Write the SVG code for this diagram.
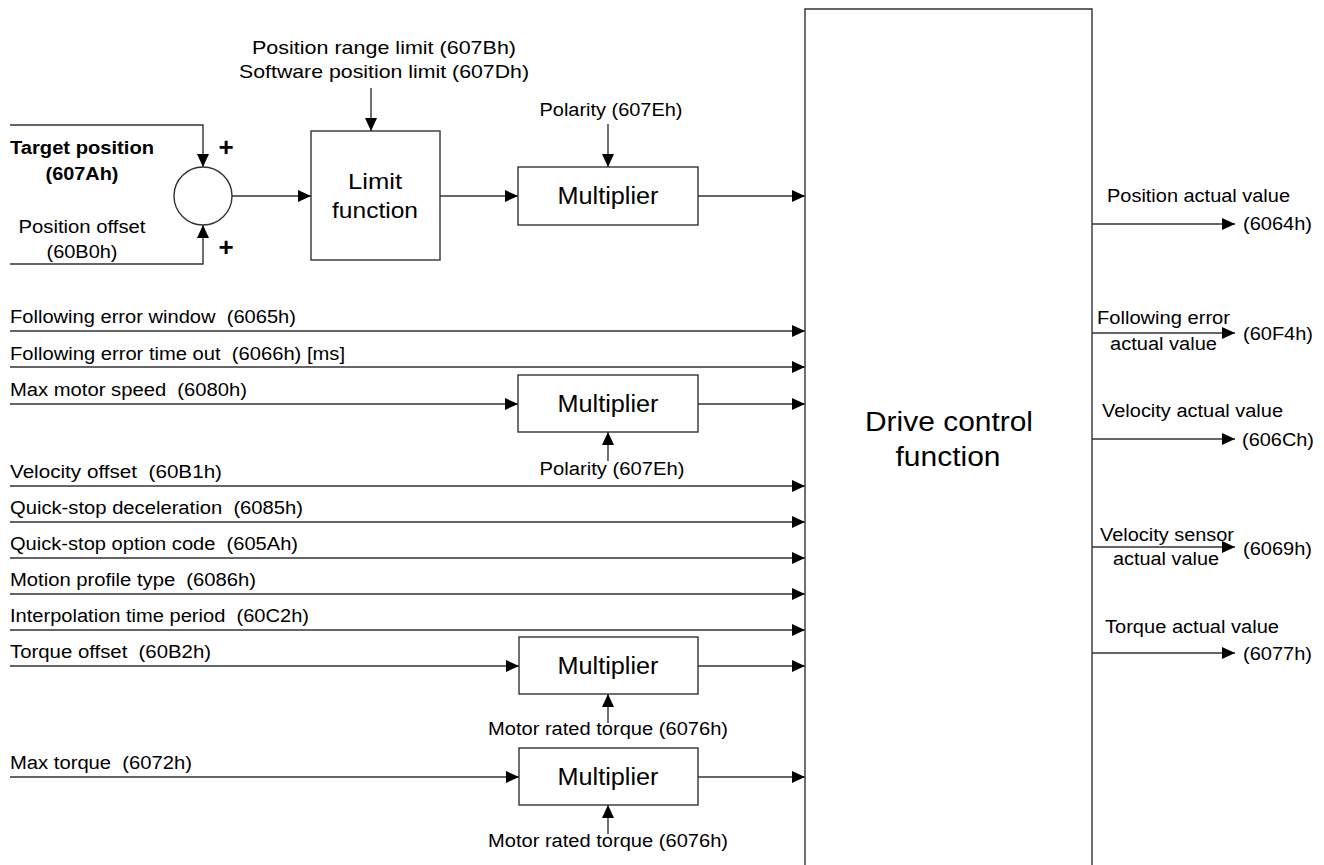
<svg xmlns="http://www.w3.org/2000/svg" width="1324" height="865" viewBox="0 0 1324 865">
<defs>
<style>
text{font-family:"Liberation Sans",Arial,sans-serif;fill:#000;white-space:pre;}
.t{font-size:18px;}
.b{font-size:18px;font-weight:bold;}
.m{font-size:23px;}
.l{font-size:22.5px;}
.d{font-size:27px;}
.top{font-size:19px;}
.c{text-anchor:middle;}
.box{fill:#fff;stroke:#333;stroke-width:1.4;}
.ln{fill:none;stroke:#333;stroke-width:1.4;}
.ar{fill:none;stroke:#333;stroke-width:1.4;marker-end:url(#ah);}
</style>
<marker id="ah" markerUnits="userSpaceOnUse" viewBox="0 0 13 12" markerWidth="13" markerHeight="12" refX="13" refY="6" orient="auto">
<path d="M0,0 L13,6 L0,12 z" fill="#000"/>
</marker>
</defs>
<rect width="1324" height="865" fill="#fff"/>

<g id="connectors">
<path class="ar" d="M10,125 H203 V167"/>
<path class="ar" d="M10,264 H203 V225"/>
<path class="ar" d="M232,196 H311"/>
<path class="ar" d="M371,88 V131"/>
<path class="ar" d="M440,196 H518"/>
<path class="ar" d="M608,124 V167"/>
<path class="ar" d="M698,196 H805"/>
<path class="ar" d="M10,331 H805"/>
<path class="ar" d="M10,367 H805"/>
<path class="ar" d="M10,404 H518"/>
<path class="ar" d="M698,404 H805"/>
<path class="ar" d="M608,461 V432"/>
<path class="ar" d="M10,486 H805"/>
<path class="ar" d="M10,522 H805"/>
<path class="ar" d="M10,558 H805"/>
<path class="ar" d="M10,594 H805"/>
<path class="ar" d="M10,630 H805"/>
<path class="ar" d="M10,666 H519"/>
<path class="ar" d="M698,666 H805"/>
<path class="ar" d="M608,723 V694"/>
<path class="ar" d="M10,777 H519"/>
<path class="ar" d="M698,777 H805"/>
<path class="ar" d="M608,834 V805"/>
<path class="ar" d="M1092,224 H1235"/>
<path class="ar" d="M1092,333 H1235"/>
<path class="ar" d="M1092,439 H1235"/>
<path class="ar" d="M1092,547 H1235"/>
<path class="ar" d="M1092,653 H1235"/>
</g>

<g id="sum">
<circle cx="203" cy="196" r="29" class="box"/>
<text class="b c" x="82" y="154" textLength="144" lengthAdjust="spacingAndGlyphs">Target position</text>
<text class="b c" x="82" y="180" textLength="73" lengthAdjust="spacingAndGlyphs">(607Ah)</text>
<text class="t c" x="82" y="233" textLength="127" lengthAdjust="spacingAndGlyphs">Position offset</text>
<text class="t c" x="82" y="258" textLength="71" lengthAdjust="spacingAndGlyphs">(60B0h)</text>
<text class="c" x="226" y="156" style="font-size:26px;font-weight:bold">+</text>
<text class="c" x="226" y="256" style="font-size:26px;font-weight:bold">+</text>
</g>

<g id="limit">
<rect x="311" y="131" width="129" height="129" class="box"/>
<text class="l c" x="375" y="189" textLength="54" lengthAdjust="spacingAndGlyphs">Limit</text>
<text class="l c" x="375" y="218" textLength="86" lengthAdjust="spacingAndGlyphs">function</text>
<text class="top c" x="384" y="54" textLength="264" lengthAdjust="spacingAndGlyphs">Position range limit (607Bh)</text>
<text class="top c" x="384" y="78" textLength="290" lengthAdjust="spacingAndGlyphs">Software position limit (607Dh)</text>
</g>

<g id="mult1">
<rect x="518" y="167" width="180" height="58" class="box"/>
<text class="m c" x="608" y="204" textLength="101" lengthAdjust="spacingAndGlyphs">Multiplier</text>
<text class="t c" x="611" y="116" textLength="143" lengthAdjust="spacingAndGlyphs">Polarity (607Eh)</text>
</g>

<g id="mult2">
<rect x="518" y="375" width="180" height="57" class="box"/>
<text class="m c" x="608" y="412" textLength="101" lengthAdjust="spacingAndGlyphs">Multiplier</text>
<text class="t c" x="612" y="475" textLength="145" lengthAdjust="spacingAndGlyphs">Polarity (607Eh)</text>
</g>

<g id="mult3">
<rect x="519" y="637" width="179" height="57" class="box"/>
<text class="m c" x="608" y="674" textLength="101" lengthAdjust="spacingAndGlyphs">Multiplier</text>
<text class="t c" x="608" y="735" textLength="240" lengthAdjust="spacingAndGlyphs">Motor rated torque (6076h)</text>
</g>

<g id="mult4">
<rect x="519" y="748" width="179" height="57" class="box"/>
<text class="m c" x="608" y="785" textLength="101" lengthAdjust="spacingAndGlyphs">Multiplier</text>
<text class="t c" x="608" y="847" textLength="240" lengthAdjust="spacingAndGlyphs">Motor rated torque (6076h)</text>
</g>

<g id="drive">
<path class="ln" d="M805,870 V9 H1092 V870" style="fill:#fff"/>
<text class="d c" x="949" y="431" textLength="168" lengthAdjust="spacingAndGlyphs">Drive control</text>
<text class="d c" x="948" y="466" textLength="105" lengthAdjust="spacingAndGlyphs">function</text>
</g>

<g id="inputs">
<text class="t" x="10" y="323" textLength="286" lengthAdjust="spacingAndGlyphs">Following error window  (6065h)</text>
<text class="t" x="10" y="360" textLength="335" lengthAdjust="spacingAndGlyphs">Following error time out  (6066h) [ms]</text>
<text class="t" x="10" y="396" textLength="237" lengthAdjust="spacingAndGlyphs">Max motor speed  (6080h)</text>
<text class="t" x="10" y="478" textLength="212" lengthAdjust="spacingAndGlyphs">Velocity offset  (60B1h)</text>
<text class="t" x="10" y="514" textLength="293" lengthAdjust="spacingAndGlyphs">Quick-stop deceleration  (6085h)</text>
<text class="t" x="10" y="550" textLength="288" lengthAdjust="spacingAndGlyphs">Quick-stop option code  (605Ah)</text>
<text class="t" x="10" y="586" textLength="246" lengthAdjust="spacingAndGlyphs">Motion profile type  (6086h)</text>
<text class="t" x="10" y="622" textLength="299" lengthAdjust="spacingAndGlyphs">Interpolation time period  (60C2h)</text>
<text class="t" x="10" y="658" textLength="201" lengthAdjust="spacingAndGlyphs">Torque offset  (60B2h)</text>
<text class="t" x="10" y="769" textLength="182" lengthAdjust="spacingAndGlyphs">Max torque  (6072h)</text>
</g>

<g id="outputs">
<text class="t" x="1107" y="202" textLength="183" lengthAdjust="spacingAndGlyphs">Position actual value</text>
<text class="t" x="1243" y="230" textLength="69" lengthAdjust="spacingAndGlyphs">(6064h)</text>
<text class="t" x="1097" y="324" textLength="133" lengthAdjust="spacingAndGlyphs">Following error</text>
<text class="t" x="1110" y="350" textLength="107" lengthAdjust="spacingAndGlyphs">actual value</text>
<text class="t" x="1243" y="340" textLength="70" lengthAdjust="spacingAndGlyphs">(60F4h)</text>
<text class="t" x="1102" y="417" textLength="181" lengthAdjust="spacingAndGlyphs">Velocity actual value</text>
<text class="t" x="1242" y="446" textLength="72" lengthAdjust="spacingAndGlyphs">(606Ch)</text>
<text class="t" x="1100" y="541" textLength="134" lengthAdjust="spacingAndGlyphs">Velocity sensor</text>
<text class="t" x="1113" y="565" textLength="106" lengthAdjust="spacingAndGlyphs">actual value</text>
<text class="t" x="1243" y="555" textLength="69" lengthAdjust="spacingAndGlyphs">(6069h)</text>
<text class="t" x="1105" y="633" textLength="174" lengthAdjust="spacingAndGlyphs">Torque actual value</text>
<text class="t" x="1243" y="660" textLength="69" lengthAdjust="spacingAndGlyphs">(6077h)</text>
</g>
</svg>
